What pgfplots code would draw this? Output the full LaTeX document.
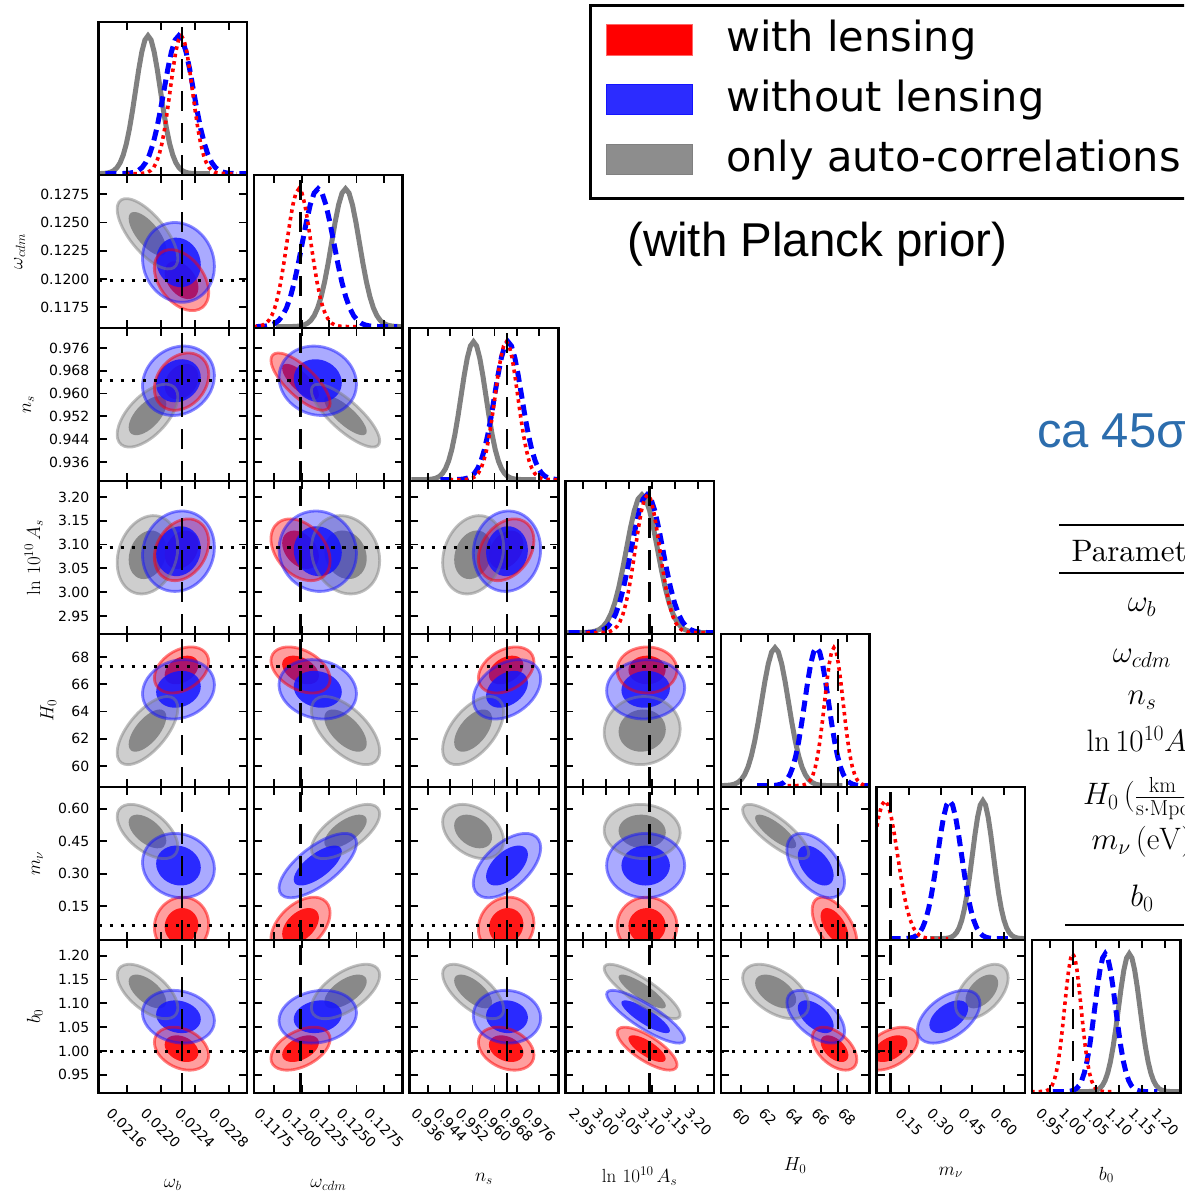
\RequirePackage{fix-cm}
\documentclass[border=0pt]{standalone}
\usepackage{graphicx}
\usepackage[no-math]{fontspec}
\usepackage{pgfplots}
\pgfplotsset{compat=1.18}
\usepackage{pgfplotstable}

\newfontfamily\dejavu{DejaVu Sans}
\newfontfamily\arialfont{Liberation Sans}
\newfontfamily\lmten{lmroman10-regular}[Extension=.otf]
\newcommand\ticksfont{\dejavu\fontsize{14}{14}\selectfont}
\newcommand\labfont{\fontsize{19}{19}\selectfont}
\newcommand\legfont{\dejavu\fontsize{41.5}{41.5}\selectfont}
\newcommand\slidefont{\arialfont\fontsize{47.5}{47.5}\selectfont}
\newcommand\notefont{\arialfont\fontsize{49}{49}\selectfont}
\newcommand\tabfont{\lmten\fontsize{31}{31}\selectfont}

\definecolor{cR}{RGB}{255,0,0}
\definecolor{cB}{RGB}{20,20,255}
\definecolor{cG}{RGB}{128,128,128}
\definecolor{caBlue}{RGB}{44,109,173}

% axis range, fiducial value, and forecast mean / 1-sigma per parameter
% rows: omega_b, omega_cdm, n_s, ln10^10 A_s, H0, m_nu, b0
% R = with lensing, B = without lensing, G = only auto-correlations
\pgfplotstableread{
lo       hi       fid      muR       sgR       muB       sgB       muG       sgG
0.02127  0.02301  0.02225  0.022243  0.000130  0.022207  0.000172  0.021844  0.000145
0.11567  0.12920  0.11990  0.11990   0.00110   0.12147   0.00144   0.12400   0.00127
0.92933  0.98302  0.96450  0.96420   0.00410   0.96450   0.00497   0.95225   0.00450
2.91200  3.23360  3.09400  3.08900   0.02650   3.08600   0.03450   3.07850   0.03360
58.4600  69.6900  67.3000  67.0500   0.69000   65.6300   0.89000   62.6000   1.02000
-0.00500 0.70000  0.06000  0.06000   0.05400   0.33800   0.06050   0.49500   0.05100
0.91200  1.23300  1.00000  1.00500   0.01840   1.07200   0.02260   1.12500   0.02330
}\params

% one-dimensional marginals (peak position and width)
\pgfplotstableread{
muR      sgR      muB      sgB      muG      sgG
0.022240 0.000130 0.022210 0.000172 0.021850 0.000145
0.11975  0.00110  0.12150  0.00144  0.12400  0.00127
0.96430  0.00410  0.96490  0.00490  0.95240  0.00450
3.09000  0.02650  3.08900  0.03400  3.07800  0.03360
67.0000  0.70000  65.7000  0.90000  62.5500  1.02000
0.03500  0.06000  0.34200  0.05700  0.50000  0.05000
1.00000  0.01800  1.07000  0.02260  1.12200  0.02330
}\marg

% correlation coefficients, panel (row parameter, column parameter)
\pgfplotstableread{
r c rR     rB     rG
2 1 -0.40  -0.10  -0.70
3 1  0.25   0.15   0.60
3 2 -0.75  -0.10  -0.80
4 1  0.25   0.10   0.20
4 2 -0.35  -0.05  -0.15
4 3  0.30   0.05   0.20
5 1  0.35   0.15   0.65
5 2 -0.40  -0.15  -0.60
5 3  0.35   0.35   0.55
5 4  0.00   0.05   0.05
6 1  0.05  -0.10  -0.55
6 2  0.45   0.70   0.65
6 3  0.10   0.55  -0.35
6 4  0.00   0.00  -0.05
6 5 -0.55  -0.50  -0.80
7 1 -0.30  -0.15  -0.60
7 2  0.45   0.15   0.60
7 3 -0.30  -0.05  -0.65
7 4 -0.75  -0.85  -0.85
7 5 -0.50  -0.55  -0.50
7 6  0.45   0.50   0.50
}\corr

% unit circle (cos, sin) every 10 degrees
\pgfplotstableread{
c s
1.0000 0.0000
0.9848 0.1736
0.9397 0.3420
0.8660 0.5000
0.7660 0.6428
0.6428 0.7660
0.5000 0.8660
0.3420 0.9397
0.1736 0.9848
0.0000 1.0000
-0.1736 0.9848
-0.3420 0.9397
-0.5000 0.8660
-0.6428 0.7660
-0.7660 0.6428
-0.8660 0.5000
-0.9397 0.3420
-0.9848 0.1736
-1.0000 0.0000
-0.9848 -0.1736
-0.9397 -0.3420
-0.8660 -0.5000
-0.7660 -0.6428
-0.6428 -0.7660
-0.5000 -0.8660
-0.3420 -0.9397
-0.1736 -0.9848
0.0000 -1.0000
0.1736 -0.9848
0.3420 -0.9397
0.5000 -0.8660
0.6428 -0.7660
0.7660 -0.6428
0.8660 -0.5000
0.9397 -0.3420
0.9848 -0.1736
1.0000 0.0000
}\unitcircle

% normalised Gaussian profile, z in units of sigma
\pgfplotstableread{
z p
-5.00 0.0000037
-4.75 0.0000126
-4.50 0.0000401
-4.25 0.0001194
-4.00 0.0003355
-3.75 0.0008838
-3.50 0.0021875
-3.25 0.0050863
-3.00 0.0111090
-2.75 0.0227941
-2.50 0.0439369
-2.25 0.0795595
-2.00 0.1353353
-1.75 0.2162652
-1.50 0.3246525
-1.25 0.4578334
-1.00 0.6065307
-0.75 0.7548396
-0.50 0.8824969
-0.25 0.9692332
0.00 1.0000000
0.25 0.9692332
0.50 0.8824969
0.75 0.7548396
1.00 0.6065307
1.25 0.4578334
1.50 0.3246525
1.75 0.2162652
2.00 0.1353353
2.25 0.0795595
2.50 0.0439369
2.75 0.0227941
3.00 0.0111090
3.25 0.0050863
3.50 0.0021875
3.75 0.0008838
4.00 0.0003355
4.25 0.0001194
4.50 0.0000401
4.75 0.0000126
5.00 0.0000037
}\gauss

% tick positions and labels per parameter
\expandafter\def\csname tk1\endcsname{0.0216,0.0220,0.0224,0.0228}
\expandafter\def\csname tk2\endcsname{0.1175,0.1200,0.1225,0.1250,0.1275}
\expandafter\def\csname tk3\endcsname{0.936,0.944,0.952,0.960,0.968,0.976}
\expandafter\def\csname tk4\endcsname{2.95,3.00,3.05,3.10,3.15,3.20}
\expandafter\def\csname tk5\endcsname{60,62,64,66,68}
\expandafter\def\csname tk6\endcsname{0.15,0.30,0.45,0.60}
\expandafter\def\csname tk7\endcsname{0.95,1.00,1.05,1.10,1.15,1.20}

\expandafter\def\csname tl2\endcsname{0.1175,0.1200,0.1225,0.1250,0.1275}
\expandafter\def\csname tl3\endcsname{0.936,0.944,0.952,0.960,0.968,0.976}
\expandafter\def\csname tl4\endcsname{2.95,3.00,3.05,3.10,3.15,3.20}
\expandafter\def\csname tl5\endcsname{60,62,64,66,68}
\expandafter\def\csname tl6\endcsname{0.15,0.30,0.45,0.60}
\expandafter\def\csname tl7\endcsname{0.95,1.00,1.05,1.10,1.15,1.20}

\newcommand\rl[1]{\rotatebox{-45}{#1}}
\expandafter\def\csname tr1\endcsname{\rl{0.0216},\rl{0.0220},\rl{0.0224},\rl{0.0228}}
\expandafter\def\csname tr2\endcsname{\rl{0.1175},\rl{0.1200},\rl{0.1225},\rl{0.1250},\rl{0.1275}}
\expandafter\def\csname tr3\endcsname{\rl{0.936},\rl{0.944},\rl{0.952},\rl{0.960},\rl{0.968},\rl{0.976}}
\expandafter\def\csname tr4\endcsname{\rl{2.95},\rl{3.00},\rl{3.05},\rl{3.10},\rl{3.15},\rl{3.20}}
\expandafter\def\csname tr5\endcsname{\rl{60},\rl{62},\rl{64},\rl{66},\rl{68}}
\expandafter\def\csname tr6\endcsname{\rl{0.15},\rl{0.30},\rl{0.45},\rl{0.60}}
\expandafter\def\csname tr7\endcsname{\rl{0.95},\rl{1.00},\rl{1.05},\rl{1.10},\rl{1.15},\rl{1.20}}

\expandafter\def\csname lab1\endcsname{$\omega_b$}
\expandafter\def\csname lab2\endcsname{$\omega_{cdm}$}
\expandafter\def\csname lab3\endcsname{$n_s$}
\expandafter\def\csname lab4\endcsname{$\ln\,10^{10}\,A_s$}
\expandafter\def\csname lab5\endcsname{$H_0$}
\expandafter\def\csname lab6\endcsname{$m_\nu$}
\expandafter\def\csname lab7\endcsname{$b_0$}

\pgfplotsset{
  panel/.style={
    scale only axis, width=148.5pt, height=153pt, anchor=north west,
    axis on top, clip=true, no markers, scaled ticks=false,
    axis line style={line width=2.6pt, black},
    tick align=inside, tick pos=both,
    major tick length=8pt,
    every tick/.append style={black, line width=1.8pt},
    minor tick num=0,
    tick label style={font=\ticksfont, inner sep=0pt},
    xticklabel shift=14pt, yticklabel shift=9pt,
    label style={font=\labfont, inner sep=0pt},
    xlabel shift=30pt, ylabel shift=15pt,
  },
  fidv/.style={black, line width=2.6pt, dash pattern=on 20pt off 12pt},
  fidh/.style={black, line width=3pt, dash pattern=on 3.5pt off 7.5pt},
  crvG/.style={cG, line width=5pt},
  crvB/.style={blue, line width=5pt, dash pattern=on 11pt off 6pt},
  crvR/.style={red, line width=3.6pt, dash pattern=on 3.5pt off 4pt},
  oG/.style={draw=none, fill=cG, fill opacity=0.38, smooth},
  iG/.style={draw=none, fill=cG, fill opacity=0.88, smooth},
  lG/.style={cG, draw opacity=0.5, line width=2.8pt, smooth},
  oR/.style={draw=none, fill=cR, fill opacity=0.38, smooth},
  iR/.style={draw=none, fill=cR, fill opacity=0.85, smooth},
  lR/.style={cR, draw opacity=0.5, line width=2.8pt, smooth},
  oB/.style={draw=none, fill=cB, fill opacity=0.36, smooth},
  iB/.style={draw=none, fill=cB, fill opacity=0.85, smooth},
  lB/.style={cB, draw opacity=0.5, line width=2.8pt, smooth},
}

\newcommand\fetch[4]{\pgfplotstablegetelem{#3}{#4}\of#2\edef#1{\pgfplotsretval}}

% contour: style, mean x, sigma x, mean y, sigma y, rho, sqrt(1-rho^2), radius
\newcommand\ellplot[8]{%
  \edef\trDoPlot{\noexpand\addplot[#1] table[x expr={#2+#8*#3*\noexpand\thisrow{c}},
    y expr={#4+#8*#5*((#6)*\noexpand\thisrow{c}+#7*\noexpand\thisrow{s})}] {\noexpand\unitcircle};}%
  \trDoPlot}

% marginal curve: style, mean, sigma
\newcommand\curve[3]{%
  \edef\trDoPlot{\noexpand\addplot[#1] table[x expr={#2+#3*\noexpand\thisrow{z}}, y=p] {\noexpand\gauss};}%
  \trDoPlot}

\newcommand\labelsfor[2]{% row, column
  \ifnum#1=7\relax
    \expandafter\let\expandafter\trXtl\csname tr#2\endcsname
    \expandafter\let\expandafter\trXlab\csname lab#2\endcsname
  \else\def\trXtl{}\def\trXlab{}\fi
  \ifnum#2=1\relax
    \ifnum#1=1\relax\def\trYtl{}\def\trYlab{}\else
    \expandafter\let\expandafter\trYtl\csname tl#1\endcsname
    \expandafter\let\expandafter\trYlab\csname lab#1\endcsname\fi
  \else\def\trYtl{}\def\trYlab{}\fi}

% fixes the anchor of the panel in row #1, column #2 as plain numbers
\newcommand\panelpos[2]{%
  \pgfmathsetmacro\trPX{98.5+155.6*(#2-1)}%
  \pgfmathsetmacro\trPY{1177-153*(#1-1)}%
  \edef\trTmp{\noexpand\pgfplotsset{thispanel/.style={at={(\trPX pt,\trPY pt)}}}}%
  \trTmp}

\newcommand\offdiag[3]{% row parameter, column parameter, correlation row
  \pgfmathtruncatemacro\trRi{#1-1}\pgfmathtruncatemacro\trCi{#2-1}%
  \fetch\trXlo\params{\trCi}{lo}\fetch\trXhi\params{\trCi}{hi}\fetch\trXfid\params{\trCi}{fid}%
  \fetch\trYlo\params{\trRi}{lo}\fetch\trYhi\params{\trRi}{hi}\fetch\trYfid\params{\trRi}{fid}%
  \fetch\trMxR\params{\trCi}{muR}\fetch\trSxR\params{\trCi}{sgR}\fetch\trMyR\params{\trRi}{muR}\fetch\trSyR\params{\trRi}{sgR}%
  \fetch\trMxB\params{\trCi}{muB}\fetch\trSxB\params{\trCi}{sgB}\fetch\trMyB\params{\trRi}{muB}\fetch\trSyB\params{\trRi}{sgB}%
  \fetch\trMxG\params{\trCi}{muG}\fetch\trSxG\params{\trCi}{sgG}\fetch\trMyG\params{\trRi}{muG}\fetch\trSyG\params{\trRi}{sgG}%
  \fetch\trRhoR\corr{#3}{rR}\fetch\trRhoB\corr{#3}{rB}\fetch\trRhoG\corr{#3}{rG}%
  \pgfmathsetmacro\trQR{sqrt(1-(\trRhoR)^2)}%
  \pgfmathsetmacro\trQB{sqrt(1-(\trRhoB)^2)}%
  \pgfmathsetmacro\trQG{sqrt(1-(\trRhoG)^2)}%
  \expandafter\let\expandafter\trXtk\csname tk#2\endcsname
  \expandafter\let\expandafter\trYtk\csname tk#1\endcsname
  \labelsfor{#1}{#2}%
  \panelpos{#1}{#2}%
  \begin{axis}[panel, thispanel,
      xmin=\trXlo, xmax=\trXhi, ymin=\trYlo, ymax=\trYhi,
      xtick/.expand once=\trXtk, ytick/.expand once=\trYtk,
      xticklabels/.expand once=\trXtl, yticklabels/.expand once=\trYtl,
      xlabel/.expand once=\trXlab, ylabel/.expand once=\trYlab]
    \ellplot{oG}{\trMxG}{\trSxG}{\trMyG}{\trSyG}{\trRhoG}{\trQG}{2.45}
    \ellplot{iG}{\trMxG}{\trSxG}{\trMyG}{\trSyG}{\trRhoG}{\trQG}{1.52}
    \ellplot{oR}{\trMxR}{\trSxR}{\trMyR}{\trSyR}{\trRhoR}{\trQR}{2.45}
    \ellplot{iR}{\trMxR}{\trSxR}{\trMyR}{\trSyR}{\trRhoR}{\trQR}{1.52}
    \ellplot{oB}{\trMxB}{\trSxB}{\trMyB}{\trSyB}{\trRhoB}{\trQB}{2.45}
    \ellplot{iB}{\trMxB}{\trSxB}{\trMyB}{\trSyB}{\trRhoB}{\trQB}{1.52}
    \ellplot{lG}{\trMxG}{\trSxG}{\trMyG}{\trSyG}{\trRhoG}{\trQG}{2.45}
    \ellplot{lR}{\trMxR}{\trSxR}{\trMyR}{\trSyR}{\trRhoR}{\trQR}{2.45}
    \ellplot{lB}{\trMxB}{\trSxB}{\trMyB}{\trSyB}{\trRhoB}{\trQB}{2.45}
    \edef\trTmp{\noexpand\addplot[fidv] coordinates {(\trXfid,\trYlo) (\trXfid,\trYhi)};}\trTmp
    \edef\trTmp{\noexpand\addplot[fidh] coordinates {(\trXlo,\trYfid) (\trXhi,\trYfid)};}\trTmp
  \end{axis}}

\newcommand\diagpanel[1]{%
  \pgfmathtruncatemacro\trRi{#1-1}%
  \fetch\trXlo\params{\trRi}{lo}\fetch\trXhi\params{\trRi}{hi}\fetch\trXfid\params{\trRi}{fid}%
  \fetch\trMR\marg{\trRi}{muR}\fetch\trSR\marg{\trRi}{sgR}%
  \fetch\trMB\marg{\trRi}{muB}\fetch\trSB\marg{\trRi}{sgB}%
  \fetch\trMG\marg{\trRi}{muG}\fetch\trSG\marg{\trRi}{sgG}%
  \expandafter\let\expandafter\trXtk\csname tk#1\endcsname
  \labelsfor{#1}{#1}%
  \panelpos{#1}{#1}%
  \begin{axis}[panel, thispanel,
      xmin=\trXlo, xmax=\trXhi, ymin=-0.01, ymax=1.1, ytick=\empty,
      xtick/.expand once=\trXtk, xticklabels/.expand once=\trXtl,
      xlabel/.expand once=\trXlab]
    \curve{crvG}{\trMG}{\trSG}
    \curve{crvB}{\trMB}{\trSB}
    \curve{crvR}{\trMR}{\trSR}
    \edef\trTmp{\noexpand\addplot[fidv] coordinates {(\trXfid,-0.01) (\trXfid,1.1)};}\trTmp
  \end{axis}}

\begin{document}
\begin{tikzpicture}[x=1pt,y=1pt]
\useasboundingbox (0,0) rectangle (1184,1199);
\fill[white] (0,0) rectangle (1184,1199);
\clip (0,0) rectangle (1184,1199);

\diagpanel{1}\diagpanel{2}\diagpanel{3}\diagpanel{4}\diagpanel{5}\diagpanel{6}\diagpanel{7}
\offdiag{2}{1}{0}
\offdiag{3}{1}{1}\offdiag{3}{2}{2}
\offdiag{4}{1}{3}\offdiag{4}{2}{4}\offdiag{4}{3}{5}
\offdiag{5}{1}{6}\offdiag{5}{2}{7}\offdiag{5}{3}{8}\offdiag{5}{4}{9}
\offdiag{6}{1}{10}\offdiag{6}{2}{11}\offdiag{6}{3}{12}\offdiag{6}{4}{13}\offdiag{6}{5}{14}
\offdiag{7}{1}{15}\offdiag{7}{2}{16}\offdiag{7}{3}{17}\offdiag{7}{4}{18}\offdiag{7}{5}{19}\offdiag{7}{6}{20}

% legend
\draw[line width=3pt] (590,1193) rectangle (1200,1000);
\filldraw[fill=cR, draw=cR!60, line width=1pt] (606,1174) rectangle (692,1143);
\filldraw[fill=cB!90!white, draw=cB, line width=1pt] (606,1114) rectangle (692,1084);
\filldraw[fill=cG!90!white, draw=cG, line width=1pt] (606,1054) rectangle (692,1024);
\node[anchor=base west, inner sep=0pt, font=\legfont] at (726,1147) {with lensing};
\node[anchor=base west, inner sep=0pt, font=\legfont] at (726,1087) {without lensing};
\node[anchor=base west, inner sep=0pt, font=\legfont] at (726,1027) {only auto-correlations};
\node[anchor=base west, inner sep=0pt, font=\slidefont] at (627,942) {(with Planck prior)};
\node[anchor=base west, inner sep=0pt, font=\notefont, text=caBlue] at (1037,751) {ca\hspace{13pt}45σ};

% parameter table
\draw[line width=2pt] (1059,674) -- (1184,674);
\draw[line width=1.2pt] (1059,626) -- (1184,626);
\draw[line width=2pt] (1065,274) -- (1184,274);
\begin{scope}[every node/.style={anchor=base, inner sep=0pt, font=\tabfont}]
\node at (1142,637) {Parameter};
\node at (1142,587) {$\omega_b$};
\node at (1142,536) {$\omega_{cdm}$};
\node at (1142,494) {$n_s$};
\node at (1142,447) {$\ln 10^{10} A_s$};
\node at (1142,394) {$H_0\,\Bigl(\frac{\mathrm{km}}{\mathrm{s\cdot Mpc}}\Bigr)$};
\node at (1142,349) {$m_\nu\,(\mathrm{eV})$};
\node at (1142,292) {$b_0$};
\end{scope}
\end{tikzpicture}
\end{document}
